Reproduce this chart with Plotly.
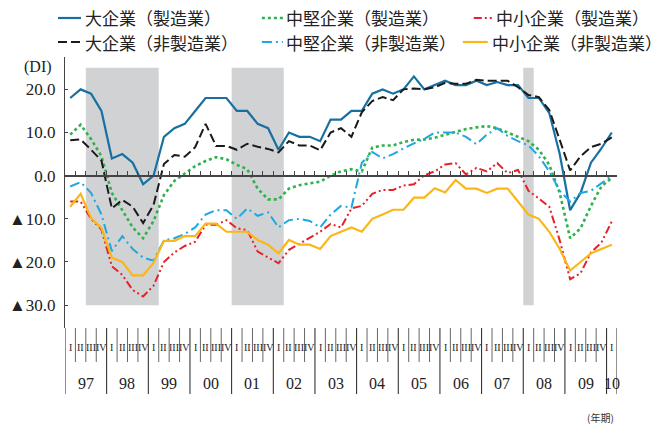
import plotly.graph_objects as go

# ---------------- data ----------------
years = ["97", "98", "99", "00", "01", "02", "03", "04", "05", "06", "07", "08", "09", "10"]
quarters = ["I", "II", "III", "IV"]
periods = [(y, q) for y in years for q in quarters][:53]   # 1997 I ... 2010 I

large_mfg = [18, 20, 19, 15, 4, 5, 3, -2, 0, 9, 11, 12, 15, 18, 18, 18, 15, 15, 12, 11,
             6, 10, 9, 9, 8, 13, 13, 15, 15, 19, 20, 19, 20, 23, 20, 21, 22, 21, 21, 22,
             21, 21.7, 21, 21, 18, 18, 14.5, 5, -8, -4, 3, 6.3, 10]
large_non = [8.2, 8.4, 6, 3.5, -7.6, -5.6, -7.2, -11, -6.8, 2.7, 4.8, 4.4, 6.6, 12, 6.9, 6.9, 6, 7.4, 6.7, 6.2,
             5.4, 8, 7, 7, 5.9, 10, 11, 9, 14.7, 17.3, 18.2, 17.5, 20, 20.2, 20, 20.5, 21.5, 21.3, 21.3, 22.2,
             22, 22, 22, 20.5, 18.7, 18.2, 15.2, 8.3, 1.2, 4.5, 6.6, 7.4, 8.9]
mid_mfg = [9.5, 11.8, 8.5, 4.5, -4, -8, -12, -14.5, -10.5, -4.5, -1.2, 0.5, 2.2, 3.4, 4.3, 3.8, 2.5, 1.5, -3, -5.5,
           -5.5, -3, -2.2, -1.8, -1.4, 0, 1, 1.5, 1, 6.5, 7, 7, 7.8, 8.3, 8.4, 8.8, 9.5, 10.2, 10.8, 11.2,
           11.5, 11, 10, 9, 8, 6, 2.5, -4, -14.5, -12.2, -7, -2.5, -0.5]
mid_non = [-2.5, -1.5, -4, -9, -17.5, -14, -17, -19, -19.7, -15, -14.5, -13.5, -12, -9, -8, -8, -10, -7.6, -9.3, -8.5,
           -12, -10.3, -10, -10.5, -12, -9, -7, -7.4, 3, 5.5, 4, 5, 6.3, 7.5, 8.5, 10, 10, 10, 9, 7.3,
           9.5, 11, 9.2, 8, 7, 4.5, 1, -3.5, -6, -4, -3.5, -1.8, 0]
small_mfg = [-6, -6, -10, -12.5, -21, -23, -26.5, -28, -25.5, -20, -17.8, -16.3, -15.3, -11.4, -11.4, -10.3, -12.2, -12.6, -17.6, -19,
             -20.3, -17.2, -15.8, -14.5, -13, -11.2, -12, -7.6, -7, -4.2, -3.3, -3.3, -2.3, -2, 0.1, 1, 2.6, 2.9, 0.3, 1.8,
             1, 2.9, 0.6, 1.3, -3.5, -5.3, -7.2, -15, -24, -22.6, -17.8, -15.5, -10.6]
small_non = [-7.2, -4.2, -9.8, -12.1, -19, -20, -23.1, -23.1, -20.2, -15.1, -15.1, -14, -14, -11.1, -11.1, -13, -13, -13, -14.9, -16,
             -18, -14.9, -16, -16, -17, -14, -13, -12, -13, -10, -9, -7.9, -7.9, -5.1, -5.1, -2.9, -3.9, -1, -3, -3,
             -4, -3, -3, -6, -9, -10, -13, -17, -22, -20, -18, -17, -16]

series_names = ["大企業（製造業）", "中堅企業（製造業）", "中小企業（製造業）",
                "大企業（非製造業）", "中堅企業（非製造業）", "中小企業（非製造業）"]
series_values = [large_mfg, mid_mfg, small_mfg, large_non, mid_non, small_non]

# recession shading (first, last quarter)
recessions = [(("97", "III"), ("99", "I")), (("01", "I"), ("02", "I")), (("08", "I"), ("08", "I"))]
shade_top, shade_bottom = 25, -30

y_ticks = [-30, -20, -10, 0, 10, 20]
y_ticktext = ["▲30.0", "▲20.0", "▲10.0", "0.0", "10.0", "20.0"]

# ---------------- styles ----------------
styles = [
    dict(color="#17709f", dash="solid", width=2.2),
    dict(color="#2fb24c", dash="3px,3px", width=2.6),
    dict(color="#e62129", dash="8px,3px,2px,3px,2px,3px", width=2.0),
    dict(color="#1a1a1a", dash="9px,4px", width=2.0),
    dict(color="#1ea7e1", dash="10px,4px,2px,4px", width=2.0),
    dict(color="#fbb617", dash="solid", width=2.2),
]

W, H = 669, 425
L, R, T, B = 65, 617.3, 57, 328
y_min, y_max = -35.3, 27.5


def pxx(px):
    return (px - L) / (R - L)


def pxy(py):
    return (B - py) / (B - T)


x = list(range(len(periods)))
fig = go.Figure()
for name, vals, st in zip(series_names, series_values, styles):
    fig.add_trace(go.Scatter(x=x, y=vals, mode="lines", name=name, showlegend=False,
                             line=dict(color=st["color"], dash=st["dash"], width=st["width"])))

shapes = []
annotations = []

# shaded periods
for a, b in recessions:
    shapes.append(dict(type="rect", xref="x", yref="y", x0=periods.index(a) - 0.5, x1=periods.index(b) + 0.5,
                       y0=shade_bottom, y1=shade_top, fillcolor="#d1d2d4", line=dict(width=0), layer="below"))

# bottom label area: separators and labels
n = len(periods)
for i in range(n + 1):
    bx = i - 0.5
    is_year = (i % 4 == 0) or i == n
    shapes.append(dict(type="line", xref="x", yref="paper", x0=bx, x1=bx,
                       y0=0, y1=pxy(394) if is_year else pxy(362),
                       line=dict(color="#222" if is_year else "#666", width=1)))
for i, (yy, q) in enumerate(periods):
    annotations.append(dict(x=i, y=pxy(347), xref="x", yref="paper", text=q, showarrow=False,
                            xanchor="center", yanchor="middle",
                            font=dict(family="Liberation Serif", size=10, color="#222")))
for yy in years:
    idx = [i for i, p in enumerate(periods) if p[0] == yy]
    annotations.append(dict(x=sum(idx) / len(idx), y=pxy(383), xref="x", yref="paper", text=yy, showarrow=False,
                            xanchor="center", yanchor="middle",
                            font=dict(family="Liberation Serif", size=16, color="#222")))

annotations.append(dict(x=pxx(54), y=pxy(67), xref="paper", yref="paper", text="(DI)", showarrow=False,
                        xanchor="right", yanchor="middle",
                        font=dict(family="Liberation Serif", size=16, color="#222")))
annotations.append(dict(x=pxx(616), y=pxy(417), xref="paper", yref="paper", text="(年期)", showarrow=False,
                        xanchor="right", yanchor="middle",
                        font=dict(family="Noto Sans CJK JP", size=10, color="#333")))

# custom legend
leg_pos = [
    (58, 81, 83, 18), (262, 283, 284, 18), (474, 493, 494, 18),
    (58, 81, 83, 42), (262, 283, 284, 42), (463, 488, 490, 42),
]
for (x0, x1, tx, ty), name, st in zip(leg_pos, series_names, styles):
    shapes.append(dict(type="line", xref="paper", yref="paper", x0=pxx(x0), x1=pxx(x1), y0=pxy(ty), y1=pxy(ty),
                       line=dict(color=st["color"], dash=st["dash"], width=st["width"])))
    annotations.append(dict(x=pxx(tx), y=pxy(ty), xref="paper", yref="paper", text=name, showarrow=False,
                            xanchor="left", yanchor="middle",
                            font=dict(family="Noto Sans CJK JP", size=17, color="#222")))

zero_pos = (0 - y_min) / (y_max - y_min)
boundaries = [i + 0.5 for i in range(n)]

fig.update_layout(
    width=W, height=H,
    margin=dict(l=L, r=W - R, t=T, b=H - B, pad=0, autoexpand=False),
    paper_bgcolor="white", plot_bgcolor="white",
    shapes=shapes, annotations=annotations,
    xaxis=dict(range=[-0.5, n - 0.5], anchor="free", position=zero_pos, showline=True, linecolor="#444",
               linewidth=1.5, ticks="inside", tickvals=boundaries, ticklen=4, tickcolor="#444",
               showticklabels=False, showgrid=False, zeroline=False, fixedrange=True, automargin=False),
    yaxis=dict(range=[y_min, y_max], showline=True, linecolor="#444", linewidth=1, ticks="inside",
               tickvals=y_ticks + [y_min, y_max], ticktext=y_ticktext + ["", ""], ticklen=3, tickcolor="#444",
               ticklabelstandoff=5, showgrid=False, zeroline=False, automargin=False,
               tickfont=dict(family="Liberation Serif", size=17, color="#222")),
)

fig.write_html("out.html", config={"displayModeBar": False},
               post_script="document.body.style.margin='0';")
